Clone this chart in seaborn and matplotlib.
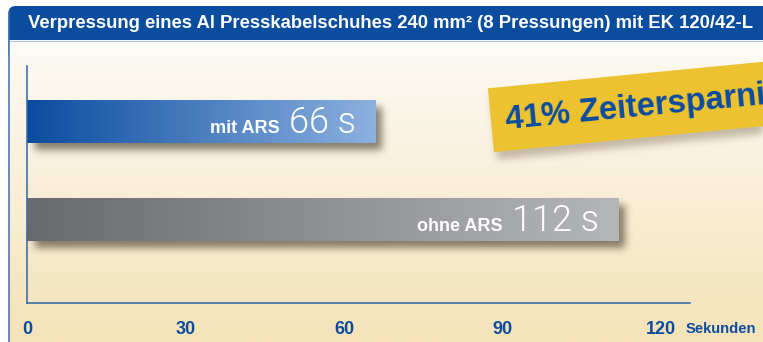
import numpy as np
import pandas as pd
import matplotlib
matplotlib.use("Agg")
import matplotlib.pyplot as plt
import seaborn as sns
from matplotlib import font_manager
from matplotlib.patches import Rectangle, FancyBboxPatch
from matplotlib.colors import LinearSegmentedColormap, to_rgb

# ---- data -------------------------------------------------------------
title = "Verpressung eines Al Presskabelschuhes 240 mm² (8 Pressungen) mit EK 120/42-L"
categories = ["mit ARS", "ohne ARS"]
seconds = [66, 112]
tick_values = [0, 30, 60, 90, 120]
tick_labels = ["0", "30", "60", "90", "120"]
minor_ticks = [10, 20, 40, 50, 70, 80, 100, 110]
unit_label = "Sekunden"
savings_label = "41% Zeitersparnis"

# ---- styling ----------------------------------------------------------
W, H, DPI = 763, 342, 100
BLUE = "#0b4c9f"
AXIS_BLUE = "#2f66aa"
YELLOW = "#edc231"
bar_gradients = [("#0b4c9f", "#8cb1df"), ("#696a6e", "#b4b6ba")]

sns.set_theme(style="white")
plt.rcParams["font.family"] = ["Liberation Sans", "DejaVu Sans"]


def light_font():
    """Pick an installed light (weight 300) sans face for the big numbers."""
    for fam in ["Roboto", "Lato", "Inter", "Open Sans", "Noto Sans"]:
        for f in font_manager.fontManager.ttflist:
            if f.name == fam and f.weight == 300 and f.style == "normal":
                return font_manager.FontProperties(fname=f.fname)
    return font_manager.FontProperties(family="Liberation Sans", weight="normal")


def Y(y_down):
    """Convert a top-down pixel row into the bottom-up figure coordinate."""
    return H - y_down


def gaussian_blur(img, sigma):
    r = int(3 * sigma)
    k = np.exp(-0.5 * (np.arange(-r, r + 1) / sigma) ** 2)
    k /= k.sum()
    out = np.apply_along_axis(lambda m: np.convolve(m, k, mode="same"), 0, img)
    out = np.apply_along_axis(lambda m: np.convolve(m, k, mode="same"), 1, out)
    return out


fig = plt.figure(figsize=(W / DPI, H / DPI), dpi=DPI)
fig.patch.set_facecolor("white")

# background layer in pixel coordinates
bg = fig.add_axes([0, 0, 1, 1], zorder=0)
bg.set_xlim(0, W)
bg.set_ylim(0, H)
bg.axis("off")

# title band with rounded upper-left corner
band = FancyBboxPatch((8.5, Y(60)), W + 40, 54, boxstyle="round,pad=0,rounding_size=7",
                      facecolor="#0a4c9e", edgecolor="none", zorder=1)
bg.add_patch(band)
bg.text(28, Y(23), title, color="white", fontsize=13.3, fontweight="bold",
        ha="left", va="center", zorder=5)

# cream panel gradient
top_c = np.array(to_rgb("#fdfbf6"))
bot_c = np.array(to_rgb("#f5e3b8"))
t = np.linspace(0, 1, 300)[:, None, None]
grad = top_c * (1 - t) + bot_c * t
grad = np.repeat(grad, 2, axis=1)
bg.imshow(grad, extent=(9, W, 0, Y(40)), aspect="auto", origin="upper", zorder=2,
          interpolation="bilinear")
bg.plot([9, W], [Y(40.5), Y(40.5)], color="#a9c5e6", lw=0.8, zorder=3)
bg.plot([8.6, 8.6], [0, Y(12)], color="#3b6fb6", lw=1.1, zorder=3)

# ---- main chart -------------------------------------------------------
ax = fig.add_axes([27 / W, Y(303) / H, (690 - 27) / W, (303 - 66) / H], zorder=2)
ax.patch.set_alpha(0)
df = pd.DataFrame({"Kategorie": categories, "Sekunden": seconds})
sns.barplot(data=df, x="Sekunden", y="Kategorie", orient="h", width=0.44,
            color="#888888", saturation=1, linewidth=0, edgecolor="none", ax=ax)

XLIM = (0, 125.5)
YLIM = (1.852, -0.566)
ax.set_xlim(*XLIM)
ax.set_ylim(*YLIM)

# fill each bar with a horizontal colour gradient
for patch, (c0, c1) in zip(ax.patches, bar_gradients):
    patch.set_linewidth(0)
    x0, y0 = patch.get_x(), patch.get_y()
    w, h = patch.get_width(), patch.get_height()
    cmap = LinearSegmentedColormap.from_list("g", [c0, c1])
    im = ax.imshow(np.linspace(0, 1, 256)[None, :], cmap=cmap, aspect="auto",
                   extent=(x0, x0 + w, y0 + h, y0), zorder=patch.get_zorder() + 0.1,
                   interpolation="bilinear")
    im.set_clip_path(patch)
ax.set_xlim(*XLIM)
ax.set_ylim(*YLIM)

# axes styling
for side in ["top", "right"]:
    ax.spines[side].set_visible(False)
for side in ["left", "bottom"]:
    ax.spines[side].set_color(AXIS_BLUE)
    ax.spines[side].set_linewidth(1.1)
ax.set_xlabel("")
ax.set_ylabel("")
ax.set_yticks([])
ax.set_xticks(tick_values, tick_labels)
ax.set_xticks(minor_ticks, minor=True)
ax.tick_params(axis="x", which="major", direction="inout", length=16, width=1.1,
               color="#1c4f94", pad=5, labelsize=13, labelcolor=BLUE)
ax.tick_params(axis="x", which="minor", direction="in", length=8, width=1.0,
               color="#1c4f94")
for lab in ax.get_xticklabels():
    lab.set_fontweight("bold")

# value labels inside the bars
num_font = light_font()
num_font.set_size(26)
for i, (cat, v) in enumerate(zip(categories, seconds)):
    num = ax.annotate(f"{v} s", xy=(v, i), xycoords="data", xytext=(-20, -11.5),
                      textcoords="offset pixels", ha="right", va="baseline",
                      fontproperties=num_font, color="white", zorder=5)
    ax.annotate(cat, xy=(0, i), xycoords=(num, "data"), xytext=(-9, -11.5),
                textcoords="offset pixels", ha="right", va="baseline",
                fontsize=13, fontweight="bold", color="white", zorder=5)

bg.text(686, Y(333), unit_label, fontsize=10.6, fontweight="bold", color=BLUE,
        ha="left", va="baseline", zorder=5)

# ---- overlay: savings banner --------------------------------------------
ov = fig.add_axes([0, 0, 1, 1], zorder=3)
ov.set_xlim(0, W)
ov.set_ylim(0, H)
ov.axis("off")
ov.patch.set_alpha(0)

ang = 5.5
banner = Rectangle((494, Y(152)), 420, 64, angle=ang, facecolor=YELLOW,
                   edgecolor="none", zorder=3)
ov.add_patch(banner)
ov.text(506, Y(129), savings_label, rotation=ang, rotation_mode="anchor",
        ha="left", va="baseline", fontsize=23.5, fontweight="bold", color=BLUE, zorder=4)

# ---- soft drop shadows derived from the drawn marks ------------------------
fig.canvas.draw()
yy, xx = np.mgrid[0:H, 0:W]
mask = np.zeros((H, W))
for patch in ax.patches:
    bb = patch.get_window_extent()
    r0, r1 = int(round(H - bb.y1)), int(round(H - bb.y0))
    c0, c1 = int(round(bb.x0)), int(round(bb.x1))
    mask[r0 + 7:r1 + 7, c0 + 8:c1 + 6] = 1.0
bpath = banner.get_path().transformed(banner.get_patch_transform())
pts = np.column_stack([xx.ravel() - 3, (H - yy.ravel()) + 7])
bmask = bpath.contains_points(pts).reshape(H, W).astype(float)
shadow = gaussian_blur(mask, 3.8) * 0.64
bshadow = gaussian_blur(bmask, 4.0) * 0.35
sh_rgba = np.zeros((H, W, 4))
sh_rgba[..., :3] = to_rgb("#4a3d2c")
sh_rgba[..., 3] = shadow
bg.imshow(sh_rgba, extent=(0, W, 0, H), origin="upper", aspect="auto", zorder=4)
bs_rgba = np.zeros((H, W, 4))
bs_rgba[..., :3] = to_rgb("#5a4a30")
bs_rgba[..., 3] = bshadow
ov.imshow(bs_rgba, extent=(0, W, 0, H), origin="upper", aspect="auto", zorder=2)
bg.set_xlim(0, W)
bg.set_ylim(0, H)
ov.set_xlim(0, W)
ov.set_ylim(0, H)

fig.savefig("out.png", dpi=DPI)
